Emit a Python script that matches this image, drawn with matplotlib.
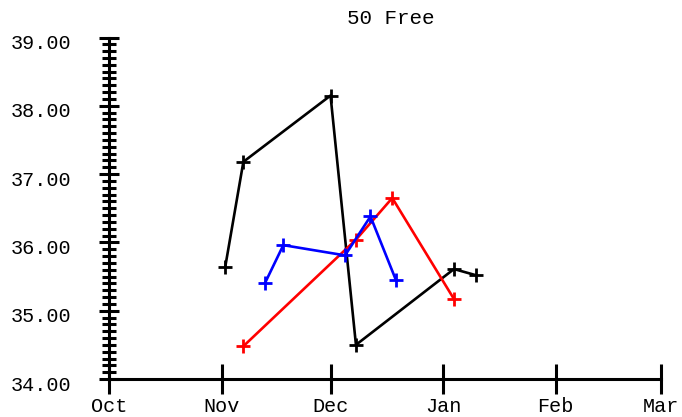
import matplotlib
matplotlib.use("Agg")
import matplotlib.pyplot as plt
from matplotlib.ticker import MultipleLocator, FormatStrFormatter
from matplotlib.transforms import ScaledTranslation
from datetime import datetime

title = "50 Free"
month_ticks = ["2011-10-01", "2011-11-01", "2011-12-01", "2012-01-01", "2012-02-01", "2012-03-01"]
month_labels = ["Oct", "Nov", "Dec", "Jan", "Feb", "Mar"]

black_dates = ["2011-11-02", "2011-11-07", "2011-12-01", "2011-12-08", "2012-01-04", "2012-01-10"]
black_times = [35.64, 37.18, 38.15, 34.50, 35.61, 35.52]

red_dates = ["2011-11-07", "2011-12-08", "2011-12-18", "2012-01-04"]
red_times = [34.48, 36.04, 36.65, 35.17]

blue_dates = ["2011-11-13", "2011-11-18", "2011-12-05", "2011-12-12", "2011-12-19"]
blue_times = [35.41, 35.96, 35.81, 36.38, 35.45]

def d(lst):
    return [datetime.strptime(s, "%Y-%m-%d") for s in lst]

mono = ["Liberation Mono", "DejaVu Sans Mono"]
plt.rcParams["font.family"] = mono

fig = plt.figure(figsize=(6.82, 4.17), dpi=100)
ax = fig.add_axes([109/682, 38/417, 552/682, 341.5/417])

for dates, vals, col in [(black_dates, black_times, "black"),
                         (red_dates, red_times, "red"),
                         (blue_dates, blue_times, "blue")]:
    ax.plot(d(dates), vals, color=col, lw=1.9, marker="+", ms=10, mew=2, clip_on=False)

ax.set_xlim(d(month_ticks)[0], d(month_ticks)[-1])
ax.set_ylim(34, 39)
ax.set_xticks(d(month_ticks))
ax.set_xticklabels(month_labels)
ax.yaxis.set_major_locator(MultipleLocator(1))
ax.yaxis.set_minor_locator(MultipleLocator(0.1))
ax.yaxis.set_major_formatter(FormatStrFormatter("%.2f"))

for s in ["top", "right"]:
    ax.spines[s].set_visible(False)
for s in ["left", "bottom"]:
    ax.spines[s].set_linewidth(2.2)

ax.tick_params(axis="y", which="major", direction="inout", length=14, width=2.2, labelsize=14.5, pad=20)
ax.tick_params(axis="y", which="minor", direction="inout", length=9.5, width=2.2)
ax.tick_params(axis="x", which="major", direction="inout", length=21, width=2.2, labelsize=14.5, pad=2.5)

shift = ScaledTranslation(0, -4/100, fig.dpi_scale_trans)
for lab in ax.get_yticklabels():
    lab.set_transform(lab.get_transform() + shift)

fig.text(391/682, 1 - 18/417, title, ha="center", va="center", fontsize=15, family=mono)

fig.savefig("out.png", dpi=100)
